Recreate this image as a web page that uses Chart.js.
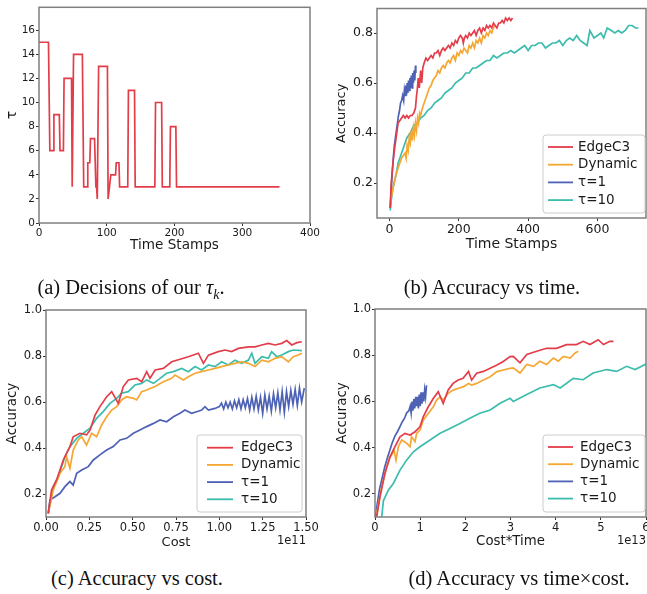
<!DOCTYPE html>
<html>
<head>
<meta charset="utf-8">
<script src="https://cdn.jsdelivr.net/npm/chart.js@4.4.0/dist/chart.umd.min.js"></script>
<style>
  html, body { margin: 0; padding: 0; background: #fff; width: 647px; height: 594px; overflow: hidden; }
  .panel { position: absolute; }
  .cap { position: absolute; font-family: "Liberation Serif", "Times New Roman", serif; font-size: 20.5px; line-height: 20px; color: #111; white-space: nowrap; transform: translateX(-50%); }
  .cap sub { font-size: 14px; }
</style>
</head>
<body>
<div class="panel" style="left:0;top:0;width:322px;height:256px"><canvas id="chart-tau"></canvas></div>
<div class="panel" style="left:320px;top:0;width:340px;height:256px"><canvas id="chart-time"></canvas></div>
<div class="panel" style="left:0;top:300px;width:322px;height:255px"><canvas id="chart-cost"></canvas></div>
<div class="panel" style="left:320px;top:300px;width:340px;height:255px"><canvas id="chart-costtime"></canvas></div>

<div class="cap" style="left:131px;top:277px">(a) Decisions of our <i>τ</i><sub><i>k</i></sub>.</div>
<div class="cap" style="left:492px;top:277px">(b) Accuracy vs time.</div>
<div class="cap" style="left:137px;top:568px">(c) Accuracy vs cost.</div>
<div class="cap" style="left:519px;top:568px">(d) Accuracy vs time×cost.</div>

<script>
const FONT = 'DejaVu Sans';
const COLORS = { edge: '#e33d4a', dyn: '#f5a733', tau1: '#4d62b5', tau10: '#3bbcac' };
const LABELS = ['EdgeC3', 'Dynamic', 'τ=1', 'τ=10'];

// (a) decisions of tau_k over time stamps
const tauStamps = [0, 14, 16, 21, 22, 30, 31, 36, 37, 48, 49, 51, 64, 66, 71, 72, 75, 76, 82, 84, 85, 86, 88, 101, 102, 104, 106, 113, 114, 118, 119, 131, 132, 141, 142, 171, 172, 181, 182, 193, 194, 202, 203, 355];
const tauValues = [15, 15, 6, 6, 9, 9, 6, 6, 12, 12, 3, 14, 14, 3, 3, 5, 5, 7, 7, 3, 3, 2, 13, 13, 2, 3, 4, 4, 5, 5, 3, 3, 11, 11, 3, 3, 10, 10, 3, 3, 8, 8, 3, 3];
const tauTicks = [0, 2, 4, 6, 8, 10, 12, 14, 16];
const stampTicks = [0, 100, 200, 300, 400];

// (b) accuracy vs time stamps
const bEdgeT = [2, 5, 10, 15, 20, 25, 30, 35, 40, 45, 50, 55, 60, 65, 70, 75, 78, 80, 83, 86, 90, 93, 96, 100, 105, 110, 115, 120, 125, 130, 135, 140, 145, 150, 155, 160, 165, 170, 175, 180, 185, 190, 195, 200, 205, 210, 213, 216, 220, 225, 230, 235, 240, 245, 250, 255, 260, 265, 270, 275, 280, 285, 290, 295, 300, 305, 310, 315, 320, 325, 330, 335, 340, 345, 350, 355];
const bEdgeAcc = [0.10, 0.20, 0.28, 0.34, 0.39, 0.44, 0.45, 0.46, 0.47, 0.46, 0.47, 0.46, 0.47, 0.47, 0.48, 0.50, 0.55, 0.57, 0.62, 0.58, 0.65, 0.60, 0.66, 0.68, 0.70, 0.69, 0.70, 0.71, 0.70, 0.72, 0.72, 0.73, 0.71, 0.73, 0.74, 0.73, 0.74, 0.75, 0.74, 0.76, 0.75, 0.77, 0.76, 0.78, 0.79, 0.78, 0.76, 0.78, 0.79, 0.78, 0.80, 0.79, 0.80, 0.81, 0.79, 0.81, 0.82, 0.80, 0.82, 0.81, 0.83, 0.82, 0.83, 0.82, 0.84, 0.83, 0.82, 0.84, 0.84, 0.85, 0.84, 0.86, 0.85, 0.86, 0.85, 0.86];
const bDynT = [2, 5, 10, 15, 20, 25, 30, 35, 40, 45, 48, 51, 54, 57, 60, 63, 66, 69, 72, 75, 78, 81, 84, 87, 90, 95, 100, 105, 110, 115, 120, 125, 130, 135, 140, 145, 150, 155, 160, 165, 170, 175, 180, 185, 190, 195, 200, 205, 210, 215, 220, 225, 230, 235, 240, 245, 250, 255, 260, 265, 270, 275, 280, 285, 290, 295, 300, 303];
const bDynAcc = [0.10, 0.14, 0.18, 0.21, 0.24, 0.26, 0.28, 0.30, 0.31, 0.32, 0.30, 0.35, 0.33, 0.38, 0.36, 0.41, 0.37, 0.42, 0.39, 0.44, 0.41, 0.46, 0.44, 0.48, 0.47, 0.50, 0.52, 0.54, 0.56, 0.58, 0.59, 0.61, 0.62, 0.63, 0.65, 0.64, 0.66, 0.67, 0.66, 0.68, 0.69, 0.68, 0.70, 0.71, 0.69, 0.72, 0.71, 0.73, 0.72, 0.74, 0.73, 0.72, 0.75, 0.74, 0.76, 0.74, 0.77, 0.76, 0.78, 0.76, 0.79, 0.78, 0.80, 0.79, 0.81, 0.80, 0.82, 0.83];
const bTau1T = [2, 5, 8, 11, 14, 17, 20, 23, 26, 29, 32, 35, 38, 41, 43, 45, 47, 49, 51, 53, 55, 57, 59, 61, 63, 65, 67, 69, 71, 73, 75, 76];
const bTau1Acc = [0.10, 0.17, 0.24, 0.30, 0.35, 0.38, 0.41, 0.44, 0.47, 0.49, 0.52, 0.53, 0.55, 0.53, 0.57, 0.55, 0.59, 0.55, 0.60, 0.56, 0.61, 0.57, 0.62, 0.58, 0.63, 0.58, 0.64, 0.60, 0.65, 0.61, 0.67, 0.64];
const bTau10T = [2, 5, 10, 15, 20, 25, 30, 40, 50, 60, 70, 80, 90, 100, 110, 120, 130, 140, 150, 160, 170, 180, 190, 200, 210, 220, 230, 240, 250, 260, 270, 280, 290, 300, 310, 320, 330, 340, 350, 360, 370, 380, 390, 400, 410, 420, 430, 440, 450, 460, 470, 480, 490, 500, 510, 520, 530, 540, 550, 560, 570, 578, 590, 600, 610, 618, 628, 640, 650, 660, 670, 680, 690, 700, 710, 718];
const bTau10Acc = [0.09, 0.13, 0.18, 0.21, 0.24, 0.28, 0.30, 0.34, 0.38, 0.40, 0.43, 0.44, 0.46, 0.47, 0.49, 0.50, 0.52, 0.53, 0.54, 0.56, 0.57, 0.58, 0.60, 0.61, 0.62, 0.64, 0.64, 0.66, 0.66, 0.67, 0.68, 0.69, 0.69, 0.71, 0.70, 0.71, 0.72, 0.72, 0.73, 0.72, 0.73, 0.74, 0.75, 0.73, 0.75, 0.75, 0.76, 0.76, 0.74, 0.75, 0.76, 0.76, 0.77, 0.75, 0.77, 0.78, 0.77, 0.79, 0.77, 0.76, 0.75, 0.81, 0.78, 0.79, 0.80, 0.78, 0.82, 0.81, 0.80, 0.81, 0.80, 0.81, 0.83, 0.83, 0.82, 0.82];
const timeTicks = [0, 200, 400, 600];
const accTicksB = [0.2, 0.4, 0.6, 0.8];

// (c) accuracy vs cost (x in units of 1e11)
const cEdgeCost = [0.013, 0.032, 0.061, 0.10, 0.138, 0.157, 0.196, 0.234, 0.254, 0.283, 0.311, 0.35, 0.379, 0.417, 0.446, 0.475, 0.523, 0.552, 0.581, 0.60, 0.63, 0.677, 0.725, 0.773, 0.821, 0.879, 0.908, 0.937, 0.994, 1.033, 1.071, 1.11, 1.168, 1.206, 1.245, 1.283, 1.322, 1.36, 1.389, 1.418, 1.447, 1.476];
const cEdgeAcc = [0.116, 0.217, 0.261, 0.348, 0.406, 0.449, 0.464, 0.457, 0.478, 0.543, 0.58, 0.623, 0.645, 0.594, 0.667, 0.696, 0.703, 0.688, 0.732, 0.703, 0.739, 0.746, 0.775, 0.786, 0.797, 0.812, 0.768, 0.804, 0.819, 0.826, 0.819, 0.833, 0.84, 0.84, 0.848, 0.855, 0.848, 0.855, 0.867, 0.848, 0.858, 0.862];
const cDynCost = [0.013, 0.042, 0.081, 0.109, 0.119, 0.138, 0.157, 0.186, 0.206, 0.234, 0.263, 0.292, 0.321, 0.35, 0.379, 0.408, 0.436, 0.465, 0.504, 0.523, 0.552, 0.581, 0.629, 0.677, 0.725, 0.744, 0.792, 0.821, 0.86, 0.898, 0.937, 0.975, 1.013, 1.052, 1.09, 1.129, 1.168, 1.206, 1.245, 1.283, 1.322, 1.36, 1.398, 1.427, 1.456, 1.476];
const cDynAcc = [0.116, 0.217, 0.29, 0.319, 0.362, 0.312, 0.391, 0.435, 0.449, 0.413, 0.464, 0.449, 0.5, 0.536, 0.565, 0.58, 0.609, 0.623, 0.616, 0.609, 0.645, 0.652, 0.667, 0.688, 0.703, 0.717, 0.696, 0.71, 0.725, 0.732, 0.739, 0.746, 0.754, 0.761, 0.768, 0.775, 0.768, 0.754, 0.782, 0.775, 0.79, 0.797, 0.775, 0.797, 0.804, 0.812];
const cTau1Cost = [0.013, 0.023, 0.052, 0.081, 0.109, 0.138, 0.157, 0.177, 0.206, 0.244, 0.273, 0.311, 0.35, 0.388, 0.427, 0.465, 0.504, 0.542, 0.581, 0.62, 0.658, 0.696, 0.735, 0.773, 0.802, 0.84, 0.878, 0.898, 0.917, 0.937, 0.975,
  1.0, 1.0125, 1.025, 1.0375, 1.05, 1.0625, 1.075, 1.0875, 1.1, 1.1125, 1.125, 1.1375, 1.15, 1.1625, 1.175, 1.1875, 1.2, 1.2125, 1.225, 1.2375, 1.25, 1.2625, 1.275, 1.2875, 1.3, 1.3125, 1.325, 1.3375, 1.35, 1.3625, 1.375, 1.3875, 1.4, 1.4125, 1.425, 1.4375, 1.45, 1.4625, 1.475, 1.49];
const cTau1Acc = [0.116, 0.174, 0.188, 0.203, 0.232, 0.254, 0.239, 0.29, 0.304, 0.319, 0.348, 0.37, 0.391, 0.406, 0.435, 0.442, 0.464, 0.478, 0.493, 0.507, 0.522, 0.514, 0.536, 0.551, 0.565, 0.551, 0.56, 0.565, 0.58, 0.565, 0.572,
  0.58, 0.595, 0.57, 0.60, 0.575, 0.60, 0.57, 0.605, 0.575, 0.61, 0.57, 0.61, 0.575, 0.615, 0.565, 0.62, 0.57, 0.625, 0.565, 0.62, 0.55, 0.63, 0.57, 0.625, 0.56, 0.635, 0.575, 0.64, 0.565, 0.645, 0.555, 0.645, 0.58, 0.65, 0.59, 0.655, 0.585, 0.66, 0.60, 0.66];
const cTau10Cost = [0.013, 0.042, 0.071, 0.109, 0.138, 0.177, 0.215, 0.254, 0.292, 0.33, 0.369, 0.408, 0.436, 0.475, 0.513, 0.552, 0.581, 0.62, 0.658, 0.696, 0.735, 0.783, 0.821, 0.86, 0.898, 0.937, 0.975, 1.013, 1.052, 1.09, 1.129, 1.168, 1.187, 1.206, 1.245, 1.283, 1.302, 1.331, 1.36, 1.398, 1.427, 1.476];
const cTau10Acc = [0.116, 0.232, 0.275, 0.362, 0.406, 0.442, 0.464, 0.486, 0.529, 0.558, 0.594, 0.616, 0.638, 0.645, 0.674, 0.681, 0.696, 0.681, 0.703, 0.725, 0.732, 0.746, 0.732, 0.754, 0.739, 0.761, 0.754, 0.775, 0.761, 0.782, 0.768, 0.782, 0.812, 0.768, 0.797, 0.79, 0.819, 0.797, 0.804, 0.819, 0.826, 0.823];
const costTicks = [0, 0.25, 0.5, 0.75, 1.0, 1.25, 1.5];
const accTicks = [0.2, 0.4, 0.6, 0.8, 1.0];

// (d) accuracy vs cost*time (x in units of 1e13)
const dEdgeCT = [0.037, 0.11, 0.22, 0.332, 0.443, 0.553, 0.664, 0.775, 0.886, 0.996, 1.07, 1.18, 1.29, 1.40, 1.51, 1.62, 1.73, 1.84, 1.95, 2.07, 2.14, 2.25, 2.40, 2.55, 2.70, 2.84, 2.99, 3.06, 3.21, 3.36, 3.58, 3.80, 4.02, 4.24, 4.46, 4.61, 4.76, 4.94, 5.06, 5.20, 5.28];
const dEdgeAcc = [0.10, 0.187, 0.289, 0.36, 0.404, 0.447, 0.462, 0.455, 0.469, 0.49, 0.534, 0.577, 0.613, 0.642, 0.591, 0.65, 0.678, 0.693, 0.70, 0.73, 0.693, 0.722, 0.73, 0.744, 0.758, 0.773, 0.794, 0.795, 0.767, 0.803, 0.817, 0.83, 0.83, 0.846, 0.846, 0.86, 0.846, 0.867, 0.846, 0.86, 0.86];
const dDynCT = [0.037, 0.15, 0.26, 0.33, 0.369, 0.42, 0.465, 0.516, 0.59, 0.70, 0.775, 0.81, 0.886, 0.922, 0.996, 1.07, 1.18, 1.29, 1.365, 1.44, 1.51, 1.62, 1.73, 1.85, 1.96, 2.07, 2.14, 2.25, 2.40, 2.55, 2.70, 2.84, 2.99, 3.06, 3.21, 3.36, 3.51, 3.65, 3.80, 3.95, 4.06, 4.17, 4.32, 4.43, 4.50];
const dDynAcc = [0.115, 0.231, 0.318, 0.36, 0.368, 0.39, 0.346, 0.404, 0.433, 0.419, 0.404, 0.447, 0.426, 0.462, 0.476, 0.52, 0.548, 0.577, 0.606, 0.62, 0.606, 0.635, 0.649, 0.657, 0.664, 0.678, 0.671, 0.678, 0.693, 0.707, 0.729, 0.736, 0.743, 0.745, 0.723, 0.76, 0.752, 0.774, 0.76, 0.788, 0.774, 0.795, 0.788, 0.81, 0.817];
const dTau1CT = [0.01, 0.037, 0.10, 0.16, 0.22, 0.28, 0.33, 0.38, 0.44, 0.50, 0.55, 0.60, 0.66, 0.70, 0.75, 0.78, 0.80, 0.82, 0.84, 0.86, 0.88, 0.90, 0.92, 0.94, 0.96, 0.98, 1.00, 1.02, 1.04, 1.06, 1.08, 1.10, 1.12, 1.14];
const dTau1Acc = [0.10, 0.14, 0.22, 0.27, 0.32, 0.36, 0.39, 0.42, 0.45, 0.47, 0.49, 0.51, 0.53, 0.55, 0.56, 0.58, 0.55, 0.60, 0.56, 0.61, 0.57, 0.62, 0.58, 0.62, 0.57, 0.63, 0.58, 0.64, 0.59, 0.64, 0.60, 0.65, 0.62, 0.67];
const dTau10CT = [0.15, 0.185, 0.295, 0.406, 0.553, 0.70, 0.85, 0.996, 1.22, 1.44, 1.66, 1.88, 2.10, 2.32, 2.55, 2.77, 2.99, 3.06, 3.36, 3.65, 3.95, 4.10, 4.39, 4.61, 4.83, 5.13, 5.35, 5.57, 5.76, 6.0, 6.1];
const dTau10Acc = [0.10, 0.17, 0.216, 0.245, 0.303, 0.346, 0.382, 0.404, 0.433, 0.462, 0.483, 0.505, 0.527, 0.549, 0.563, 0.592, 0.614, 0.60, 0.63, 0.658, 0.673, 0.658, 0.70, 0.694, 0.723, 0.738, 0.73, 0.752, 0.738, 0.762, 0.765];
const ctTicks = [0, 1, 2, 3, 4, 5, 6];

function pairs(xs, ys) {
  return xs.map((x, i) => ({ x: x, y: ys[i] }));
}

function series(label, xs, ys, color) {
  return { label: label, data: pairs(xs, ys), borderColor: color, backgroundColor: color,
    borderWidth: 1.7, pointRadius: 0, tension: 0 };
}

// matplotlib-like box around the plot area
const frame = {
  id: 'frame',
  afterDatasetsDraw(chart) {
    const { ctx, chartArea } = chart;
    ctx.save();
    ctx.strokeStyle = '#7f7f7f';
    ctx.lineWidth = 1.5;
    ctx.strokeRect(chartArea.left, chartArea.top, chartArea.right - chartArea.left, chartArea.bottom - chartArea.top);
    ctx.restore();
  }
};

// legend box inside the axes + the "1e11" style offset text
const extras = {
  id: 'extras',
  afterDraw(chart, args, opts) {
    const { ctx, chartArea } = chart;
    ctx.save();
    if (opts.legend) {
      const L = opts.legend;
      const x = chartArea.right - L.right - L.width;
      const y = chartArea.bottom - L.bottom - L.height;
      ctx.beginPath();
      ctx.roundRect(x, y, L.width, L.height, 3);
      ctx.fillStyle = 'rgba(255,255,255,0.85)';
      ctx.fill();
      ctx.strokeStyle = '#cccccc';
      ctx.lineWidth = 1;
      ctx.stroke();
      ctx.font = L.fontSize + 'px "' + FONT + '"';
      ctx.textBaseline = 'middle';
      ctx.textAlign = 'left';
      chart.data.datasets.forEach((ds, i) => {
        const ry = y + L.first + i * L.gap;
        ctx.strokeStyle = ds.borderColor;
        ctx.lineWidth = 1.8;
        ctx.beginPath();
        ctx.moveTo(x + L.lineFrom, ry);
        ctx.lineTo(x + L.lineTo, ry);
        ctx.stroke();
        ctx.fillStyle = '#1a1a1a';
        ctx.fillText(ds.label, x + L.textX, ry);
      });
    }
    if (opts.offsetText) {
      ctx.font = '11.5px "' + FONT + '"';
      ctx.fillStyle = '#1a1a1a';
      ctx.textAlign = 'right';
      ctx.textBaseline = 'middle';
      ctx.fillText(opts.offsetText, chartArea.right, opts.offsetY);
    }
    ctx.restore();
  }
};

function axis(o) {
  return {
    type: 'linear',
    min: o.min, max: o.max,
    afterBuildTicks: s => { s.ticks = o.ticks.map(v => ({ value: v })); },
    afterFit: s => { if (o.width) s.width = o.width; if (o.height) s.height = o.height; },
    grid: { drawOnChartArea: false, drawTicks: true, tickLength: 3, tickColor: '#333' },
    border: { display: false },
    ticks: { font: { family: FONT, size: o.tickSize }, color: '#1a1a1a', padding: 1,
      maxRotation: 0, autoSkip: false, callback: o.fmt },
    title: { display: true, text: o.title, color: '#1a1a1a', font: { family: FONT, size: o.titleSize },
      padding: o.titlePad }
  };
}

function makeChart(id, datasets, scales, padding, extraOpts) {
  return new Chart(document.getElementById(id), {
    type: 'line',
    data: { datasets: datasets },
    options: {
      responsive: true,
      maintainAspectRatio: false,
      animation: false,
      layout: { padding: padding },
      plugins: { legend: { display: false }, tooltip: { enabled: false }, extras: extraOpts },
      scales: scales
    },
    plugins: [frame, extras]
  });
}

const chartTau = makeChart('chart-tau',
  [series('tau', tauStamps, tauValues, COLORS.edge)],
  {
    x: axis({ min: 0, max: 400, ticks: stampTicks, height: 33, tickSize: 10.5, title: 'Time Stamps', titleSize: 13.6,
      titlePad: { top: 0, bottom: 2 }, fmt: v => v }),
    y: axis({ min: 0, max: 17.9, ticks: tauTicks, width: 39, tickSize: 10.5, title: 'τ', titleSize: 14,
      titlePad: { top: 4, bottom: 0 }, fmt: v => v })
  },
  { top: 5, right: 12, left: 0, bottom: 0 }, {});

const chartTime = makeChart('chart-time',
  [series(LABELS[0], bEdgeT, bEdgeAcc, COLORS.edge),
   series(LABELS[1], bDynT, bDynAcc, COLORS.dyn),
   series(LABELS[2], bTau1T, bTau1Acc, COLORS.tau1),
   series(LABELS[3], bTau10T, bTau10Acc, COLORS.tau10)],
  {
    x: axis({ min: -36, max: 740, ticks: timeTicks, height: 38, tickSize: 12.5, title: 'Time Stamps', titleSize: 14,
      titlePad: { top: 0, bottom: 3 }, fmt: v => v }),
    y: axis({ min: 0.06, max: 0.898, ticks: accTicksB, width: 57, tickSize: 12.5, title: 'Accuracy', titleSize: 13,
      titlePad: { top: 14, bottom: 0 }, fmt: v => v.toFixed(1) })
  },
  { top: 4, right: 14, left: 0, bottom: 0 },
  { legend: { width: 102, height: 78, right: 1, bottom: 5, fontSize: 13.5, first: 12, gap: 17.7, lineFrom: 5, lineTo: 30, textX: 35 } });

const chartCost = makeChart('chart-cost',
  [series(LABELS[0], cEdgeCost, cEdgeAcc, COLORS.edge),
   series(LABELS[1], cDynCost, cDynAcc, COLORS.dyn),
   series(LABELS[2], cTau1Cost, cTau1Acc, COLORS.tau1),
   series(LABELS[3], cTau10Cost, cTau10Acc, COLORS.tau10)],
  {
    x: axis({ min: 0, max: 1.5, ticks: costTicks, height: 38, tickSize: 11.5, title: 'Cost', titleSize: 13,
      titlePad: { top: 0, bottom: 5 }, fmt: v => v.toFixed(2) }),
    y: axis({ min: 0.1, max: 1.0, ticks: accTicks, width: 46, tickSize: 11.5, title: 'Accuracy', titleSize: 13.5,
      titlePad: { top: 4, bottom: 0 }, fmt: v => v.toFixed(1) })
  },
  { top: 10, right: 16, left: 0, bottom: 0 },
  { legend: { width: 105, height: 77, right: 4, bottom: 5, fontSize: 13.5, first: 12.7, gap: 17.2, lineFrom: 10, lineTo: 36, textX: 44 },
    offsetText: '1e11', offsetY: 241 });

const chartCostTime = makeChart('chart-costtime',
  [series(LABELS[0], dEdgeCT, dEdgeAcc, COLORS.edge),
   series(LABELS[1], dDynCT, dDynAcc, COLORS.dyn),
   series(LABELS[2], dTau1CT, dTau1Acc, COLORS.tau1),
   series(LABELS[3], dTau10CT, dTau10Acc, COLORS.tau10)],
  {
    x: axis({ min: 0, max: 6, ticks: ctTicks, height: 38, tickSize: 11.5, title: 'Cost*Time', titleSize: 13.3,
      titlePad: { top: 0, bottom: 5 }, fmt: v => v }),
    y: axis({ min: 0.1, max: 1.0, ticks: accTicks, width: 55, tickSize: 11.5, title: 'Accuracy', titleSize: 13.5,
      titlePad: { top: 14, bottom: 0 }, fmt: v => v.toFixed(1) })
  },
  { top: 9, right: 14, left: 0, bottom: 0 },
  { legend: { width: 102, height: 77, right: 1, bottom: 5, fontSize: 13.5, first: 12, gap: 17.2, lineFrom: 5, lineTo: 30, textX: 37 },
    offsetText: '1e13', offsetY: 241 });
</script>
</body>
</html>
